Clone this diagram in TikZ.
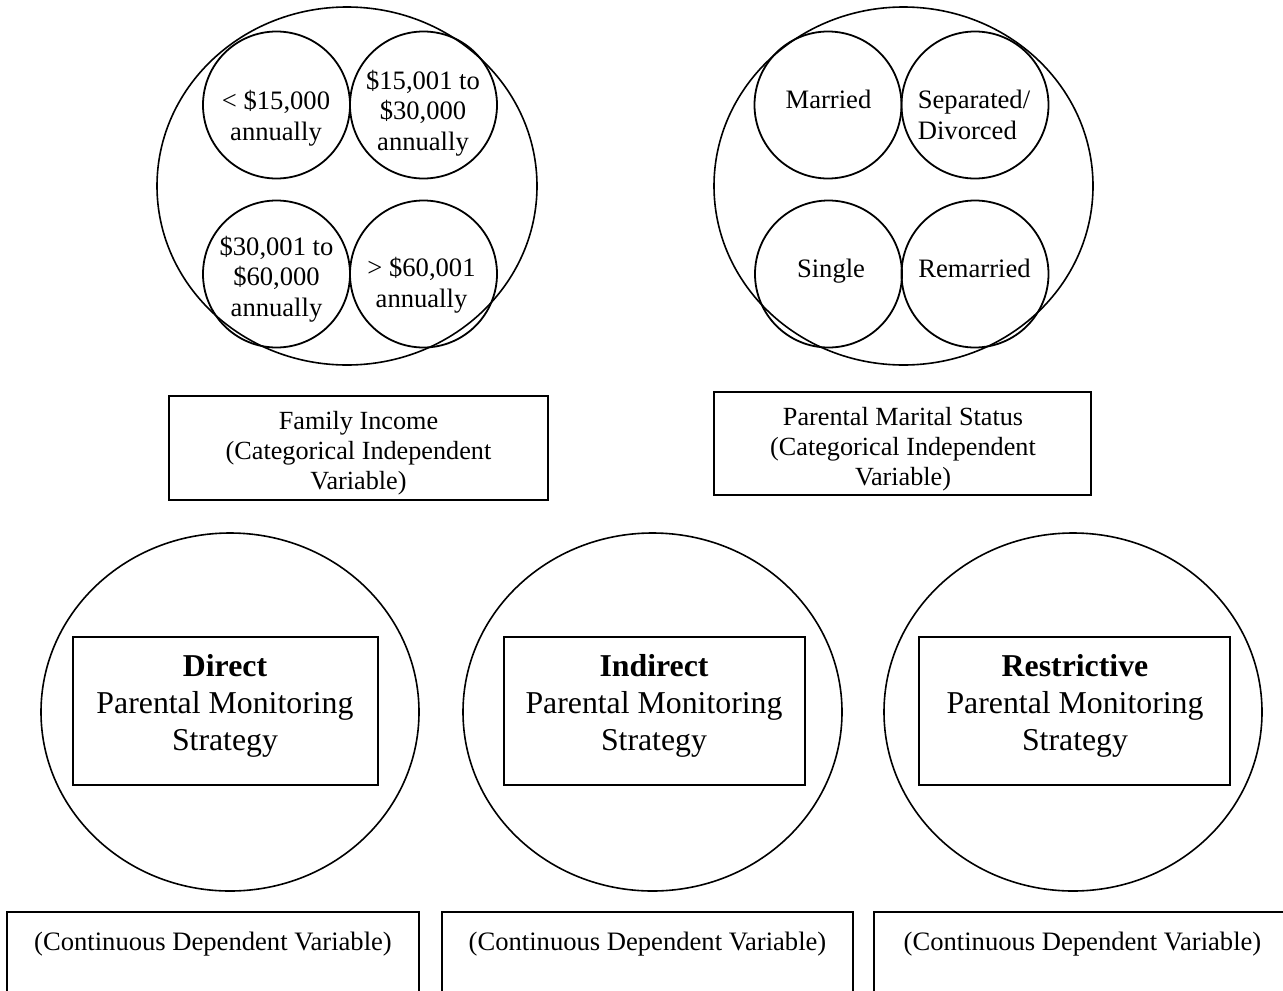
\documentclass[tikz,border=0pt]{standalone}
\usepackage{fontspec}
\setmainfont{Liberation Serif}
\usetikzlibrary{shapes.geometric}
\begin{document}
\begin{tikzpicture}[x=1pt,y=-1pt,
  outline/.style={draw=black, line width=1.8pt, inner sep=0pt},
  bigoval/.style={outline, ellipse, line width=1.6pt},
  catcircle/.style={outline, circle, minimum size=147pt},
  ctext/.style={inner sep=0pt, align=center, font=\fontsize{26.6}{30.5}\selectfont},
  ivbox/.style={outline, rectangle},
  ivtext/.style={inner sep=0pt, align=center, font=\fontsize{26.2}{29.8}\selectfont},
  stratbox/.style={outline, rectangle, minimum height=148pt},
  strattext/.style={inner sep=0pt, align=center, font=\fontsize{31.8}{37.2}\selectfont},
  dvbox/.style={outline, rectangle, anchor=north, inner xsep=0pt, inner ysep=9pt,
    text height=30pt, text depth=80pt, font=\fontsize{26.6}{30.5}\selectfont}
]
\useasboundingbox (0,0) rectangle (1283,991);
\clip (0,0) rectangle (1283,991);

% ---------------- Family income ----------------
\node[bigoval, minimum width=380pt, minimum height=358pt] (incOval) at (347,186) {};
\node[catcircle] (incA) at (276.5,105) {};
\node[catcircle] (incB) at (423.5,105) {};
\node[catcircle] (incC) at (276.5,274) {};
\node[catcircle] (incD) at (423.5,274) {};
\node[ctext] (incAtext) at (276,118) {< \$15,000\\annually};
\node[ctext] (incBtext) at (423,113) {\$15,001 to\\\$30,000\\annually};
\node[ctext] (incCtext) at (276.5,279) {\$30,001 to\\\$60,000\\annually};
\node[ctext] (incDtext) at (421.5,285) {> \$60,001\\annually};

\node[ivbox, minimum width=379pt, minimum height=104pt] (incBox) at (358.5,448) {};
\node[ivtext] (incBoxtext) at (358.5,453) {Family Income\\(Categorical Independent\\Variable)};

% ---------------- Parental marital status ----------------
\node[bigoval, minimum width=379pt, minimum height=358pt] (marOval) at (903.5,186) {};
\node[catcircle] (marA) at (828,105) {};
\node[catcircle] (marB) at (975,105) {};
\node[catcircle] (marC) at (828.5,274) {};
\node[catcircle] (marD) at (975,274) {};
\node[ctext] (marAtext) at (828.5,99) {Married};
\node[ctext, align=left] (marBtext) at (974,115) {Separated/\\Divorced};
\node[ctext] (marCtext) at (831,271) {Single};
\node[ctext] (marDtext) at (974.5,268) {Remarried};

\node[ivbox, minimum width=377pt, minimum height=103pt] (marBox) at (902.5,443.5) {};
\node[ivtext] (marBoxtext) at (903,449) {Parental Marital Status\\(Categorical Independent\\Variable)};

% ---------------- Monitoring strategies ----------------
\node[bigoval, minimum width=378pt, minimum height=358pt] (dirOval) at (230,712) {};
\node[stratbox, minimum width=305pt] (dirBox) at (225.5,711) {};
\node[strattext] (dirText) at (225,706) {\textbf{Direct}\\Parental Monitoring\\Strategy};

\node[bigoval, minimum width=379pt, minimum height=358pt] (indOval) at (652.5,712) {};
\node[stratbox, minimum width=301pt] (indBox) at (654.5,711) {};
\node[strattext] (indText) at (654,706) {\textbf{Indirect}\\Parental Monitoring\\Strategy};

\node[bigoval, minimum width=378pt, minimum height=358pt] (resOval) at (1073,712) {};
\node[stratbox, minimum width=311pt] (resBox) at (1074.5,711) {};
\node[strattext] (resText) at (1075,706) {\textbf{Restrictive}\\Parental Monitoring\\Strategy};

% ---------------- Dependent-variable boxes ----------------
\node[dvbox, minimum width=412pt] (dirDV) at (213,911) {(Continuous Dependent Variable)};
\node[dvbox, minimum width=411pt] (indDV) at (647.5,911) {(Continuous Dependent Variable)};
\node[dvbox, minimum width=417pt] (resDV) at (1082.5,911) {(Continuous Dependent Variable)};
\end{tikzpicture}
\end{document}
